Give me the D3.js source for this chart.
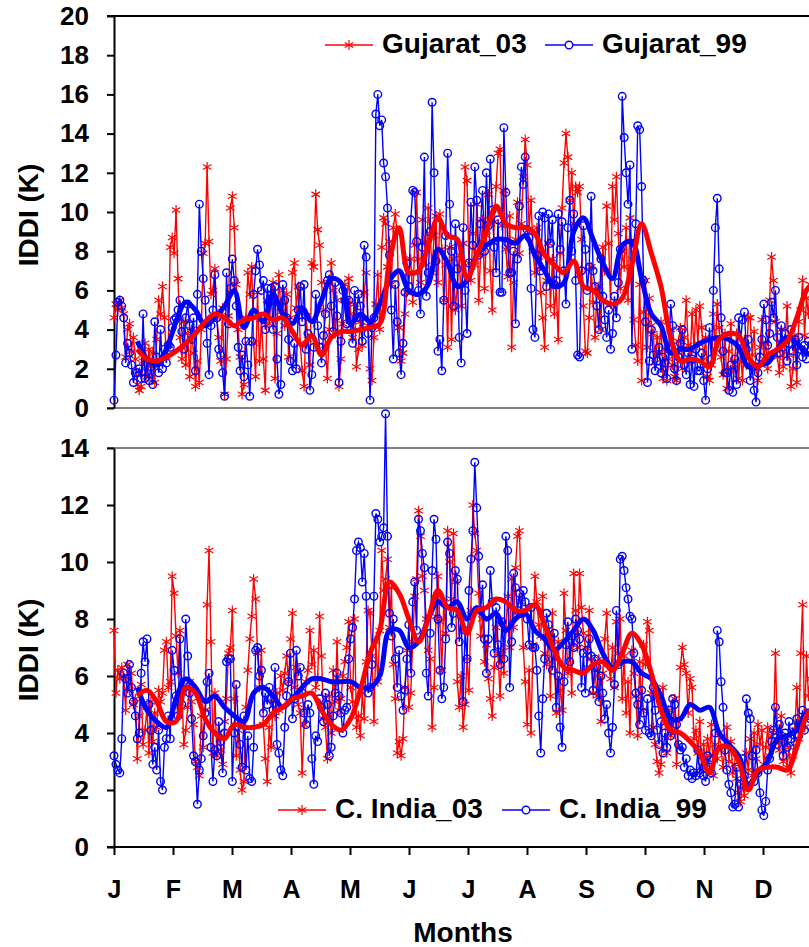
<!DOCTYPE html>
<html>
<head>
<meta charset="utf-8">
<script src="https://cdn.jsdelivr.net/npm/d3@7"></script>
<style>
  body { margin: 0; background: #fff; }
  svg text { font-family: "Liberation Sans", Arial, sans-serif; font-weight: bold; fill: #000; }
</style>
</head>
<body>
<div id="chart"></div>
<script>
// Nhãn trục
const months = ["J", "F", "M", "A", "M", "J", "J", "A", "S", "O", "N", "D"];
const topTicks = [0, 2, 4, 6, 8, 10, 12, 14, 16, 18, 20];
const bottomTicks = [0, 2, 4, 6, 8, 10, 12, 14];

// Giá trị hằng ngày (ngày 0 .. 359)
const gujarat03 = [
  4.6,5.3,5.0,5.5,5.1,4.8,2.6,4.0,4.3,2.9,3.6,2.5,1.2,0.9,1.1,2.4,3.3,1.6,3.0,2.1,
  2.8,1.3,3.5,5.5,4.8,6.2,4.6,2.6,3.2,8.2,8.7,7.9,10.1,6.6,3.6,2.5,4.4,2.2,3.8,1.6,
  4.0,2.8,1.1,2.4,1.3,4.0,7.9,8.4,12.3,8.5,5.8,6.0,7.1,4.6,3.6,2.4,5.1,0.7,2.5,4.7,
  10.2,10.8,9.2,6.3,4.0,2.6,0.7,1.2,4.6,6.9,5.8,7.2,3.3,1.6,5.9,2.4,4.5,2.5,0.9,5.5,
  4.3,5.6,6.4,1.5,3.8,6.8,4.9,6.0,4.2,5.8,2.6,4.6,6.9,7.4,5.1,6.2,3.3,1.9,1.1,4.7,
  3.5,2.2,7.4,7.2,10.9,9.1,8.3,6.4,5.0,3.2,1.5,4.0,7.4,6.0,3.8,5.5,1.1,2.5,4.3,6.3,
  5.5,6.6,4.8,3.6,5.3,2.1,3.0,4.4,3.2,5.9,6.9,4.2,2.0,1.4,3.6,5.3,6.8,4.0,8.2,9.7,
  9.4,7.2,8.5,6.3,9.2,9.9,8.9,4.1,2.4,2.8,4.8,5.9,6.9,7.6,5.4,8.3,11.0,7.6,6.4,9.6,
  8.5,7.3,10.2,8.9,6.9,8.8,9.8,6.4,9.9,8.1,5.5,7.3,3.1,8.2,3.5,7.6,5.0,6.3,7.8,5.2,
  8.4,12.3,11.6,7.4,6.5,8.9,7.3,10.4,5.5,7.8,9.6,6.1,8.8,10.9,7.0,5.0,9.5,11.3,13.0,13.2,
  9.3,11.1,8.1,6.7,9.8,3.1,6.4,8.6,10.5,7.9,9.4,11.8,13.7,12.4,9.1,10.6,8.0,6.9,9.2,7.5,
  5.9,4.6,3.1,6.5,8.4,5.2,7.6,4.8,6.2,3.5,7.9,10.2,12.5,14.0,12.8,10.6,12.0,9.4,11.3,11.0,
  11.3,8.6,5.2,2.9,2.8,4.6,7.2,5.4,3.6,6.0,6.2,4.0,8.2,7.0,10.3,8.4,5.3,11.3,9.6,11.8,
  8.9,6.1,8.0,7.2,9.2,5.5,9.7,7.6,4.5,3.2,2.4,6.3,1.4,4.9,6.5,3.1,5.6,4.2,3.8,2.3,
  3.6,2.8,4.4,1.5,3.0,1.4,2.5,4.0,2.2,1.6,1.4,3.4,4.1,2.0,3.6,5.5,3.2,2.4,4.8,3.1,
  5.0,3.3,5.2,4.1,2.5,3.6,1.6,1.4,2.2,4.8,3.0,5.3,4.1,2.6,1.7,3.8,1.0,2.9,4.3,2.0,
  2.4,3.8,1.5,2.9,1.4,3.5,2.2,4.6,4.6,2.7,3.9,2.0,1.4,3.1,4.5,2.5,3.3,2.0,5.5,7.7,
  6.5,4.4,2.6,1.8,4.0,2.1,3.4,5.2,2.7,1.1,2.0,3.6,1.3,4.4,5.0,6.5,3.7,5.6,4.8,6.3
];
const gujarat99 = [
  0.4,2.7,5.4,5.5,5.2,4.6,2.3,3.3,2.8,2.2,1.3,1.8,1.8,2.0,1.5,4.8,1.5,2.3,1.4,2.1,
  1.2,4.4,2.6,1.8,4.0,2.0,3.0,2.3,3.2,3.1,4.1,4.5,4.6,5.0,5.5,3.9,3.0,4.6,5.3,4.2,
  3.5,4.6,1.9,5.8,10.4,8.0,6.6,5.5,3.3,1.7,4.2,5.0,6.8,4.6,3.0,2.7,1.8,0.6,6.9,4.3,
  6.1,7.6,6.5,5.2,3.1,1.9,2.7,1.6,3.4,2.2,0.6,3.4,5.8,7.0,8.1,7.3,6.0,6.5,4.0,6.1,
  5.4,6.1,4.0,6.2,2.5,0.7,1.2,6.3,5.5,4.6,3.5,2.4,1.9,3.3,2.0,5.0,6.2,4.4,6.3,3.0,
  3.8,0.9,1.7,3.1,5.8,4.2,3.1,2.3,3.7,4.8,6.5,6.8,5.2,3.9,6.4,4.7,1.3,3.4,6.0,5.5,
  4.3,5.5,4.0,3.3,6.0,4.6,5.8,5.2,3.4,8.3,7.7,3.8,0.4,4.1,4.6,15.0,16.0,14.4,14.7,12.5,
  11.8,10.2,7.8,5.0,2.5,6.3,4.4,2.8,1.7,3.3,5.9,7.4,6.2,9.6,11.1,11.0,8.5,6.0,4.8,8.2,
  12.8,5.7,6.9,9.0,15.6,12.0,7.5,2.9,3.5,1.9,5.5,8.8,13.0,10.4,8.0,5.2,9.4,7.1,3.6,2.3,
  9.2,6.0,3.8,7.4,10.5,8.3,12.3,10.6,7.8,9.4,11.1,8.0,12.0,9.3,12.7,10.1,8.2,6.9,9.6,5.9,
  5.9,14.3,11.0,8.4,6.9,6.9,8.0,4.3,7.6,10.3,12.3,11.4,12.8,9.1,8.7,6.1,4.0,3.6,7.8,9.8,
  7.0,10.0,9.7,6.2,9.9,8.4,9.6,6.3,6.5,9.9,8.1,9.5,7.0,5.3,9.2,10.6,8.0,9.9,6.5,2.7,
  2.6,7.0,9.3,8.1,6.0,7.2,10.8,7.0,6.2,5.2,4.0,7.6,5.7,4.5,3.6,5.0,3.0,3.8,5.7,4.6,
  6.4,8.1,15.9,13.8,12.0,10.4,12.4,3.0,8.4,9.4,14.4,14.2,11.3,6.5,4.4,1.3,2.4,4.0,2.7,1.9,
  2.4,3.1,1.8,2.6,2.3,1.5,3.0,5.3,4.2,2.0,1.4,2.6,3.3,4.0,2.2,1.7,2.8,1.2,2.5,1.1,
  3.0,1.9,1.9,2.8,1.4,0.4,2.0,4.1,2.5,6.0,9.2,10.7,7.1,4.6,2.9,1.8,1.8,0.9,2.2,0.8,
  2.5,1.2,4.6,3.4,4.5,4.9,3.0,3.5,1.4,2.1,0.9,0.3,1.8,2.6,3.5,5.3,4.5,3.2,3.8,5.4,
  4.6,6.0,3.6,2.8,4.2,3.1,3.8,2.4,3.3,4.0,2.9,3.5,2.2,3.6,3.0,2.6,3.2,2.5,3.4,2.9
];
const cIndia03 = [
  7.6,5.4,6.2,5.9,6.3,6.0,4.8,6.4,5.5,6.1,5.0,5.2,3.1,4.6,5.7,3.6,4.1,4.9,3.3,5.1,
  3.7,4.7,4.2,5.5,5.1,5.4,6.9,7.2,5.6,5.8,9.5,8.9,7.4,6.1,7.6,5.4,3.6,4.1,4.9,5.8,
  5.1,4.3,3.0,2.8,2.5,4.6,3.5,4.8,8.5,10.4,7.2,3.3,5.4,3.2,4.0,3.4,2.9,4.4,5.2,6.8,
  7.0,8.3,5.2,3.2,4.1,2.7,2.0,2.3,4.9,6.2,7.3,8.1,9.4,8.7,6.8,5.6,6.9,4.3,3.1,2.3,
  4.2,3.5,5.1,4.6,5.4,4.8,6.0,5.5,6.1,6.7,5.8,7.3,8.2,5.6,6.3,5.0,4.7,2.6,4.3,5.8,
  6.2,7.6,6.4,6.9,5.6,5.9,8.1,6.7,4.5,4.2,3.1,5.3,4.0,6.2,5.1,7.2,4.8,5.2,6.0,6.5,
  7.0,7.9,5.6,5.1,8.0,4.2,4.6,3.9,5.4,4.5,6.5,8.3,8.2,6.7,4.4,7.2,5.8,7.6,10.4,9.0,
  9.4,10.1,7.7,9.1,6.4,5.2,3.3,3.7,3.2,3.8,5.6,6.9,4.9,5.4,7.2,8.8,9.4,11.8,10.9,9.5,
  9.0,8.0,6.9,6.6,4.2,5.6,8.1,9.5,7.9,6.2,8.6,7.5,11.1,10.0,8.7,11.0,9.3,5.8,4.9,6.0,
  4.2,5.0,6.6,5.5,8.3,12.0,11.0,10.4,8.9,7.4,8.0,6.5,7.1,5.9,5.2,4.6,6.3,7.7,6.8,5.3,
  6.9,6.1,7.6,8.8,7.0,9.4,7.7,9.8,10.9,11.1,8.6,7.0,5.8,4.3,6.2,4.0,7.1,9.5,8.6,7.8,
  7.4,8.8,6.8,6.4,7.5,5.3,8.2,6.6,4.7,7.2,5.5,4.8,8.9,7.6,6.1,7.0,5.4,9.6,8.3,7.0,
  9.6,8.4,7.5,7.0,6.3,8.3,6.6,5.4,6.2,5.3,6.6,4.4,6.1,7.3,8.2,6.4,5.9,7.0,5.6,7.9,
  6.8,8.0,5.2,6.7,4.7,5.8,4.0,6.9,6.1,5.3,3.9,6.5,4.8,7.1,6.4,7.9,7.6,5.4,4.2,3.6,
  3.0,2.6,2.9,5.6,4.5,3.3,4.8,3.9,4.1,5.2,2.9,4.5,6.3,7.0,6.4,6.1,4.7,5.9,5.6,3.8,
  4.1,3.3,4.4,2.7,3.6,2.9,3.8,3.2,4.3,2.5,3.6,3.1,4.0,3.4,2.8,3.5,4.2,3.0,3.7,2.6,
  2.9,2.4,1.9,1.6,2.2,1.8,3.3,2.7,3.8,2.5,4.0,3.1,4.3,3.6,4.1,2.9,3.5,4.2,3.2,3.9,
  4.1,6.8,4.0,3.4,4.6,3.0,3.7,2.8,3.5,2.6,3.2,4.1,5.6,3.8,6.8,8.5,4.2,6.7,5.3,5.9
];
const cIndia99 = [
  3.2,2.9,2.7,2.6,3.8,6.1,5.9,5.4,6.4,5.6,5.1,4.6,3.8,4.0,6.1,7.2,6.5,7.3,5.0,4.1,
  2.9,3.5,2.7,4.1,2.3,2.0,3.5,3.8,4.6,3.8,6.9,6.2,5.3,4.6,7.3,5.0,5.8,8.0,6.7,5.4,
  4.5,3.2,3.0,1.5,2.7,3.1,3.9,4.7,5.8,6.1,3.5,2.3,3.4,3.2,4.4,3.7,2.6,4.0,6.5,6.6,
  6.6,2.3,4.0,5.7,4.4,3.6,2.8,4.6,2.7,3.9,2.4,2.3,3.5,6.9,7.0,6.0,6.2,4.7,5.4,5.0,
  5.6,5.2,4.8,6.3,3.6,3.3,2.7,2.5,4.2,5.3,5.8,6.8,4.5,5.2,6.9,6.0,6.3,5.4,4.7,4.3,
  5.0,4.7,3.1,2.2,3.9,3.7,5.2,4.9,4.4,5.4,5.0,3.2,3.5,4.6,5.4,6.1,5.3,4.7,4.0,4.8,
  4.9,6.6,7.3,7.7,8.7,10.4,10.7,10.5,9.3,10.3,8.8,5.4,5.6,6.4,8.8,11.7,11.5,10.7,10.9,11.2,
  15.2,10.9,8.2,7.4,8.0,6.6,5.6,6.9,5.3,4.8,5.5,6.6,7.8,6.1,8.6,9.3,7.6,11.5,11.1,10.3,
  9.8,6.1,5.3,7.5,9.7,11.5,10.8,8.0,6.2,5.2,5.6,7.3,10.7,10.3,7.7,8.2,9.7,9.4,7.2,8.1,
  5.1,7.6,6.6,9.0,10.1,11.1,13.5,11.9,10.2,8.3,9.2,7.3,6.1,7.3,9.7,8.6,6.8,8.4,7.1,6.4,
  7.9,6.6,10.9,10.4,5.6,7.2,9.6,9.1,8.3,8.9,8.2,9.0,8.6,8.0,7.1,8.4,7.0,7.0,6.2,4.6,
  3.3,5.2,6.6,8.2,7.8,7.3,6.2,7.5,4.9,6.0,4.2,3.5,5.8,7.1,7.9,6.5,7.4,7.0,8.0,7.6,
  7.3,5.6,6.8,5.4,6.9,7.3,6.7,5.5,6.6,6.3,5.1,6.0,5.4,4.5,5.0,4.0,3.3,4.2,5.7,8.3,
  6.4,10.1,10.2,9.7,9.1,8.7,8.1,8.0,6.8,5.4,5.0,4.3,5.5,4.7,4.1,5.2,4.0,3.9,5.6,4.8,
  4.1,3.6,4.4,3.3,4.0,3.5,4.8,3.9,5.2,5.0,4.3,3.6,3.4,3.5,2.8,3.1,2.5,2.7,2.4,2.6,
  2.5,3.4,2.6,3.0,2.5,2.3,3.2,2.8,2.6,3.1,4.0,7.6,7.2,5.8,4.9,3.4,2.7,2.2,1.9,1.4,
  1.5,2.8,1.4,2.2,3.1,2.5,5.2,4.7,4.5,3.2,2.3,3.4,2.6,1.9,1.3,1.1,1.6,2.7,3.1,3.7,
  4.1,4.9,3.6,4.3,3.9,3.2,4.0,3.5,4.4,3.8,4.2,3.7,4.5,3.9,4.3,4.8,4.1,4.6,4.7,4.5
];

// Đường trung bình trượt: bắt đầu ngày 12, mỗi 5 ngày một điểm
const smoothStart = 12;
const smoothStep = 5;
const gujarat03Smooth = [
  3.0,2.5,2.4,2.6,2.9,3.3,3.8,4.4,4.8,4.6,4.2,4.5,4.6,4.8,4.5,4.6,3.9,3.2,3.7,2.7,
  3.6,3.9,3.9,4.0,4.1,4.3,7.5,9.2,6.9,7.0,8.3,9.7,8.8,8.6,6.6,7.8,9.0,10.3,9.4,9.2,
  9.2,8.9,7.8,7.3,6.9,7.5,6.2,6.0,5.5,5.3,5.6,7.3,9.4,7.9,6.2,3.6,2.4,2.5,2.4,2.1,
  3.5,3.8,3.7,2.6,2.1,2.7,3.0,3.4,4.6,6.0,6.5
];
const gujarat99Smooth = [
  3.4,2.5,2.2,3.0,4.4,5.4,5.0,4.2,4.6,5.2,6.0,4.1,5.0,4.4,5.8,4.8,4.3,5.1,4.4,5.5,
  6.6,6.4,4.3,4.8,4.4,5.3,6.5,7.0,6.0,5.8,6.3,8.1,7.4,6.2,6.5,7.8,8.3,8.6,8.6,8.4,
  8.8,7.8,7.0,6.2,6.4,9.0,9.7,8.6,7.4,6.6,8.3,8.5,6.6,4.8,4.2,2.8,3.0,3.0,3.3,3.5,
  3.6,3.5,3.1,2.1,2.2,2.3,3.0,3.6,3.3,2.8,2.8
];
const cIndia03Smooth = [
  5.3,5.5,5.1,4.4,4.4,5.6,5.4,4.5,4.0,3.8,4.3,4.2,4.2,4.3,4.7,4.9,5.2,5.3,5.4,4.8,
  4.3,4.1,4.5,5.5,6.8,7.6,9.3,8.9,8.0,7.2,8.0,9.0,8.4,8.3,7.5,8.3,8.4,8.7,8.6,8.3,
  8.3,8.5,7.8,6.9,6.3,6.2,6.1,6.4,6.5,6.2,6.8,7.5,7.1,6.1,4.8,4.1,4.0,3.7,3.3,2.6,
  3.5,3.5,3.0,2.0,2.7,2.8,2.8,2.7,3.5,4.6,5.0
];
const cIndia99Smooth = [
  5.6,4.8,4.4,4.2,5.2,5.9,5.6,5.1,5.3,4.9,4.6,4.4,5.4,5.6,5.3,4.9,5.2,5.6,5.9,5.9,
  5.8,5.8,5.8,5.6,5.6,6.0,7.6,7.6,7.0,7.2,8.0,8.6,8.4,8.6,8.0,8.4,8.0,8.2,7.6,8.0,
  8.2,7.6,7.3,6.9,7.2,7.6,8.0,7.6,6.8,6.3,6.5,6.5,6.1,5.9,5.3,4.5,4.5,5.0,4.8,4.9,
  4.0,3.6,3.2,2.2,2.6,3.0,3.8,3.9,4.1,4.6,4.7
];

const width = 809;
const height = 947;
const red = "#ff0000";
const blue = "#0000ff";

const svg = d3.select("#chart")
  .append("svg")
  .attr("width", width)
  .attr("height", height);

// Trục ngày: 12 tháng, mỗi tháng ~59px, vượt ra ngoài mép phải giống ảnh gốc
const x = d3.scaleLinear().domain([0, 365]).range([114, 822]);
const monthPos = months.map((m, i) => i * 365 / 12);

// Ký hiệu dấu sao cho chuỗi màu đỏ
const starPath = "M0,-5L0,5M-4.3,-2.5L4.3,2.5M-4.3,2.5L4.3,-2.5";

function drawPanel(cfg) {
  const y = d3.scaleLinear().domain([0, cfg.max]).range([cfg.bottom, cfg.top]);
  const g = svg.append("g");

  // Viền khung trên/dưới
  g.append("line")
    .attr("x1", 107).attr("x2", width).attr("y1", cfg.top).attr("y2", cfg.top)
    .attr("stroke", cfg.topColor).attr("stroke-width", 2);
  g.append("line")
    .attr("x1", 107).attr("x2", width).attr("y1", cfg.bottom).attr("y2", cfg.bottom)
    .attr("stroke", cfg.bottomColor).attr("stroke-width", 2);

  // Trục Y
  const ay = g.append("g")
    .attr("transform", "translate(114,0)")
    .call(d3.axisLeft(y).tickValues(cfg.ticks).tickSize(7).tickSizeOuter(0).tickPadding(18));
  ay.select(".domain").attr("stroke", "#000").attr("stroke-width", 2);
  ay.selectAll(".tick line").attr("stroke", "#000").attr("stroke-width", 2);
  ay.selectAll(".tick text").style("font-size", "26px").attr("fill", "#000");

  // Nhãn trục Y
  g.append("text")
    .attr("transform", `translate(38,${cfg.labelY}) rotate(-90)`)
    .attr("text-anchor", "middle")
    .style("font-size", "28px")
    .text("IDDI (K)");

  const line = d3.line().x((d, i) => x(i)).y(d => y(d));
  const smooth = d3.line()
    .x((d, i) => x(smoothStart + i * smoothStep))
    .y(d => y(d))
    .curve(d3.curveCatmullRom);

  // Chuỗi đỏ hằng ngày
  g.append("path").datum(cfg.redData)
    .attr("d", line).attr("fill", "none").attr("stroke", red).attr("stroke-width", 1.4);
  g.selectAll(".star").data(cfg.redData).enter().append("path")
    .attr("transform", (d, i) => `translate(${x(i)},${y(d)})`)
    .attr("d", starPath).attr("stroke", red).attr("stroke-width", 1.2).attr("fill", "none");

  // Chuỗi xanh hằng ngày
  g.append("path").datum(cfg.blueData)
    .attr("d", line).attr("fill", "none").attr("stroke", blue).attr("stroke-width", 1.4);
  g.selectAll(".dot").data(cfg.blueData).enter().append("circle")
    .attr("cx", (d, i) => x(i)).attr("cy", d => y(d)).attr("r", 3.8)
    .attr("fill", "none").attr("stroke", blue).attr("stroke-width", 1.4);

  // Đường trung bình trượt
  g.append("path").datum(cfg.blueSmooth)
    .attr("d", smooth).attr("fill", "none").attr("stroke", blue)
    .attr("stroke-width", 5).attr("stroke-linejoin", "round");
  g.append("path").datum(cfg.redSmooth)
    .attr("d", smooth).attr("fill", "none").attr("stroke", red)
    .attr("stroke-width", 5).attr("stroke-linejoin", "round");

  // Chú thích
  const lg = g.append("g");
  const items = [
    { name: cfg.names[0], color: red, x0: cfg.legX[0], star: true },
    { name: cfg.names[1], color: blue, x0: cfg.legX[1], star: false }
  ];
  items.forEach(it => {
    lg.append("line")
      .attr("x1", it.x0).attr("x2", it.x0 + 48)
      .attr("y1", cfg.legY).attr("y2", cfg.legY)
      .attr("stroke", it.color).attr("stroke-width", 1.6);
    if (it.star) {
      lg.append("path").attr("d", starPath)
        .attr("transform", `translate(${it.x0 + 24},${cfg.legY})`)
        .attr("stroke", it.color).attr("stroke-width", 1.2).attr("fill", "none");
    } else {
      lg.append("circle").attr("cx", it.x0 + 24).attr("cy", cfg.legY).attr("r", 3.8)
        .attr("fill", "#fff").attr("stroke", it.color).attr("stroke-width", 1.4);
    }
    lg.append("text")
      .attr("x", it.x0 + 57).attr("y", cfg.legY + 8)
      .style("font-size", "28px")
      .text(it.name);
  });

  return y;
}

drawPanel({
  top: 16, bottom: 408, max: 20, ticks: topTicks, labelY: 215,
  topColor: "#000", bottomColor: "#808080",
  redData: gujarat03, blueData: gujarat99,
  redSmooth: gujarat03Smooth, blueSmooth: gujarat99Smooth,
  names: ["Gujarat_03", "Gujarat_99"], legX: [325, 545], legY: 45
});

drawPanel({
  top: 448, bottom: 847, max: 14, ticks: bottomTicks, labelY: 650,
  topColor: "#808080", bottomColor: "#000",
  redData: cIndia03, blueData: cIndia99,
  redSmooth: cIndia03Smooth, blueSmooth: cIndia99Smooth,
  names: ["C. India_03", "C. India_99"], legX: [278, 502], legY: 810
});

// Trục X tháng
const ax = svg.append("g")
  .attr("transform", "translate(0,847)")
  .call(d3.axisBottom(x).tickValues(monthPos)
    .tickFormat((d, i) => months[i]).tickSize(8).tickSizeOuter(0).tickPadding(25));
ax.select(".domain").remove();
ax.selectAll(".tick line").attr("stroke", "#000").attr("stroke-width", 2);
ax.selectAll(".tick text").style("font-size", "25px").attr("fill", "#000");

svg.append("text")
  .attr("x", 463).attr("y", 942)
  .attr("text-anchor", "middle")
  .style("font-size", "28px")
  .text("Months");
</script>
</body>
</html>
